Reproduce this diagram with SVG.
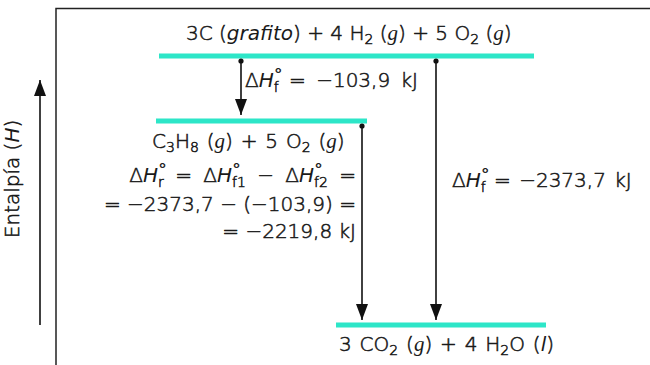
<svg xmlns="http://www.w3.org/2000/svg" width="650" height="365" viewBox="0 0 650 365">
<defs>
<style>
text{font-family:"DejaVu Sans","Liberation Sans",sans-serif;font-size:20px;font-weight:300;fill:#1a1a1a;stroke:#1a1a1a;stroke-width:0.55}
.it{font-style:italic;font-weight:400;stroke:none}
.g{font-family:"Liberation Serif","Times New Roman",serif;font-style:italic;font-weight:400;font-size:21px;stroke:none}
.sm{font-size:14px}
.dg{font-size:18px}
.lvl{stroke:#2de6c8;stroke-width:5}
.ar{stroke:#111;stroke-width:1.6;fill:none;marker-end:url(#ah)}
</style>
<marker id="ah" markerUnits="userSpaceOnUse" markerWidth="16" markerHeight="12" refX="16" refY="6" orient="auto">
<path d="M0,0 L16,6 L0,12 z" fill="#111"/>
</marker>
</defs>
<polyline points="56,365 56,8.5 650,8.5" fill="none" stroke="#222" stroke-width="1.5"/>
<g id="axis">
<line class="ar" x1="40" y1="325" x2="40" y2="80"/>
<text transform="translate(19,179) rotate(-90)" text-anchor="middle">Entalpía (<tspan class="it">H</tspan>)</text>
</g>
<g id="reactivos">
<line class="lvl" x1="159" y1="56" x2="534" y2="56"/>
<text x="186" y="40">3C (<tspan class="it">grafito</tspan>) + 4 H<tspan class="sm" dy="4">2</tspan><tspan dy="-4"> (</tspan><tspan class="g">g</tspan>) + 5 O<tspan class="sm" dy="4">2</tspan><tspan dy="-4"> (</tspan><tspan class="g">g</tspan>)</text>
</g>
<g id="propano">
<line class="lvl" x1="156" y1="121" x2="367" y2="121"/>
<text x="152" y="148" word-spacing="1.5">C<tspan class="sm" dy="4">3</tspan><tspan dy="-4">H</tspan><tspan class="sm" dy="4">8</tspan><tspan dy="-4"> (</tspan><tspan class="g">g</tspan>) + 5 O<tspan class="sm" dy="4">2</tspan><tspan dy="-4"> (</tspan><tspan class="g">g</tspan>)</text>
<text x="356" y="182" text-anchor="end" word-spacing="5">Δ<tspan class="it">H</tspan><tspan class="dg" dy="-6">°</tspan><tspan class="sm" dx="-9" dy="11">r</tspan><tspan dy="-5"> = Δ</tspan><tspan class="it">H</tspan><tspan class="dg" dy="-6">°</tspan><tspan class="sm" dx="-9" dy="11">f1</tspan><tspan dy="-5"> − Δ</tspan><tspan class="it">H</tspan><tspan class="dg" dy="-6">°</tspan><tspan class="sm" dx="-9" dy="11">f2</tspan><tspan dy="-5"> =</tspan></text>
<text x="356" y="211" text-anchor="end">= −2373,7 − (−103,9) =</text>
<text x="356" y="238" text-anchor="end">= −2219,8 kJ</text>
</g>
<g id="productos">
<line class="lvl" x1="336" y1="325" x2="546" y2="325"/>
<text x="339" y="351" word-spacing="1.5">3 CO<tspan class="sm" dy="4">2</tspan><tspan dy="-4"> (</tspan><tspan class="g">g</tspan>) + 4 H<tspan class="sm" dy="4">2</tspan><tspan dy="-4">O (</tspan><tspan class="it">l</tspan>)</text>
</g>
<g id="connectors">
<circle cx="241" cy="61" r="2.6" fill="#111"/>
<line class="ar" x1="241" y1="61" x2="241" y2="115"/>
<text x="245" y="87" word-spacing="4">Δ<tspan class="it">H</tspan><tspan class="dg" dy="-6">°</tspan><tspan class="sm" dx="-9" dy="11">f</tspan><tspan dy="-5"> = −103,9 kJ</tspan></text>
<circle cx="362" cy="126" r="2.6" fill="#111"/>
<line class="ar" x1="362" y1="126" x2="362" y2="320"/>
<circle cx="436" cy="61" r="2.6" fill="#111"/>
<line class="ar" x1="436" y1="61" x2="436" y2="320"/>
<text x="452" y="187" word-spacing="2">Δ<tspan class="it">H</tspan><tspan class="dg" dy="-6">°</tspan><tspan class="sm" dx="-9" dy="11">f</tspan><tspan dy="-5"> = −2373,7 kJ</tspan></text>
</g>
</svg>
